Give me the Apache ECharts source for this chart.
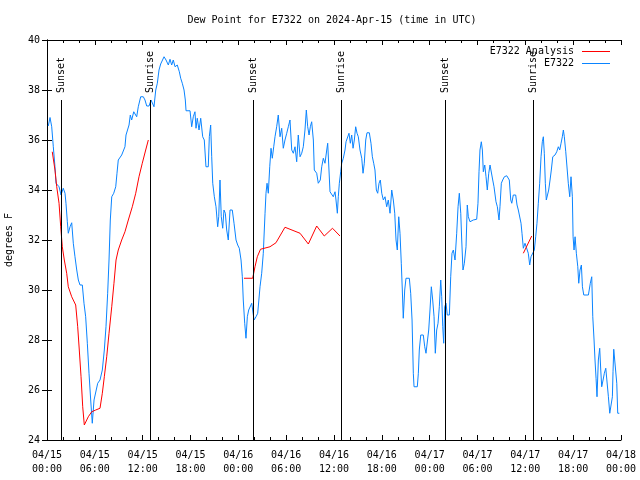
<!DOCTYPE html>
<html>
<head>
<meta charset="utf-8">
<script src="https://cdn.jsdelivr.net/npm/echarts@6/dist/echarts.min.js"></script>
<style>html,body{margin:0;padding:0;background:#fff}#c{width:640px;height:480px}</style>
</head>
<body>
<div id="c"></div>
<script>
// Hours since 2024-04-15 00:00 UTC
const blueHours = [0.16,0.38,0.59,0.79,1.00,1.13,1.34,1.51,1.76,2.04,2.26,2.38,2.55,2.67,2.89,3.10,3.30,3.51,3.73,3.93,4.14,4.43,4.64,4.85,5.06,5.27,5.48,5.68,5.90,6.11,6.36,6.65,6.94,7.19,7.40,7.61,7.78,7.94,8.12,8.37,8.62,8.78,8.94,9.16,9.37,9.62,9.78,9.91,10.12,10.29,10.45,10.62,10.88,11.04,11.25,11.45,11.75,12.08,12.29,12.51,12.80,13.05,13.26,13.42,13.64,13.84,14.05,14.26,14.39,14.68,14.93,15.22,15.43,15.64,15.84,16.06,16.34,16.60,16.77,16.97,17.19,17.35,17.44,17.94,18.15,18.35,18.56,18.69,18.85,19.07,19.28,19.53,19.73,19.94,20.23,20.36,20.53,20.66,20.79,20.99,21.20,21.41,21.54,21.70,21.86,22.04,22.20,22.37,22.54,22.74,22.96,23.24,23.46,23.71,23.92,24.12,24.34,24.50,24.62,24.80,24.96,25.13,25.30,25.46,25.68,25.80,25.97,26.22,26.43,26.72,26.93,27.13,27.35,27.47,27.60,27.76,27.94,28.10,28.26,28.44,28.60,28.81,29.01,29.23,29.44,29.64,29.85,30.07,30.27,30.48,30.70,30.90,31.11,31.32,31.52,31.74,31.95,32.15,32.36,32.53,32.70,32.87,33.03,33.20,33.41,33.53,33.83,34.03,34.28,34.46,34.66,34.87,35.09,35.21,35.37,35.50,35.71,35.91,36.13,36.25,36.42,36.54,36.67,36.84,36.97,37.17,37.38,37.51,37.72,37.88,38.05,38.22,38.39,38.55,38.72,38.89,39.05,39.26,39.48,39.64,39.80,39.98,40.14,40.43,40.64,40.81,40.98,41.14,41.31,41.48,41.65,41.81,41.99,42.19,42.40,42.61,42.81,43.03,43.24,43.44,43.62,43.78,43.94,44.12,44.28,44.44,44.57,44.69,44.87,45.03,45.45,45.62,45.79,45.95,46.04,46.45,46.58,46.70,46.88,47.20,47.38,47.54,47.71,47.88,48.04,48.21,48.38,48.55,48.71,48.88,49.05,49.21,49.39,49.51,49.64,49.76,49.89,50.05,50.21,50.47,50.64,50.80,50.97,51.18,51.39,51.56,51.72,51.90,52.02,52.18,52.35,52.56,52.72,52.85,53.06,53.47,53.90,54.06,54.19,54.31,54.48,54.61,54.73,54.91,55.07,55.23,55.41,55.57,55.73,55.91,56.07,56.32,56.49,56.70,56.82,56.99,57.16,57.37,57.67,57.99,58.17,58.30,58.49,58.79,58.96,59.12,59.30,59.46,59.58,59.75,59.96,60.21,60.37,60.55,60.71,60.92,61.13,61.30,61.46,61.63,61.80,61.97,62.13,62.26,62.38,62.51,62.63,62.76,62.93,63.10,63.26,63.44,63.72,63.94,64.14,64.31,64.48,64.64,64.77,64.89,65.07,65.23,65.39,65.57,65.73,65.90,65.99,66.11,66.24,66.40,66.58,66.70,66.86,67.03,67.16,67.33,67.91,68.15,68.33,68.46,68.62,68.74,68.87,68.99,69.16,69.33,69.46,69.58,69.75,69.91,70.09,70.29,70.42,70.59,70.84,70.92,71.00,71.09,71.34,71.47,71.59,71.79];
const blueValues = [36.56,36.9,36.53,35.73,34.93,34.27,34.33,34.13,33.8,34.07,33.87,33.47,32.73,32.27,32.53,32.69,31.87,31.33,30.8,30.4,30.2,30.2,29.47,28.93,27.87,26.67,25.6,24.67,25.6,25.6,26.27,26.4,26.8,27.6,28.53,29.87,31.2,32.8,33.73,33.87,34.13,34.67,35.2,35.27,35.4,35.47,35.73,36.2,36.13,36.6,37.0,36.8,37.13,37.07,36.93,37.33,37.73,37.73,37.6,37.36,37.36,37.6,37.6,37.33,38.0,38.27,38.8,39.04,39.1,39.33,39.2,39.0,39.23,39.0,39.2,38.93,39.0,38.73,38.47,38.27,38.0,37.6,37.17,37.17,36.53,36.93,37.13,36.47,36.87,36.4,36.87,36.13,36.0,34.93,34.93,36.13,36.6,35.33,34.27,33.73,33.33,32.53,32.93,34.4,32.93,32.47,33.2,33.07,32.4,32.0,33.2,33.2,32.67,32.0,31.8,31.67,31.2,30.53,29.6,28.67,28.07,28.93,29.2,29.27,29.47,29.2,28.8,28.93,29.07,30.13,30.67,31.47,33.07,33.87,34.27,33.87,34.93,35.67,35.27,35.73,36.13,36.53,37.0,36.13,36.47,35.67,36.0,36.27,36.53,36.8,35.6,35.47,35.73,35.13,36.2,35.33,35.47,35.73,36.4,37.2,36.53,36.2,36.53,36.73,36.0,34.8,34.67,34.27,34.4,34.93,35.27,35.07,35.6,35.87,34.8,33.93,33.87,33.73,33.93,33.6,33.07,33.73,34.27,34.73,35.07,35.27,35.6,35.93,35.87,36.27,35.87,36.2,35.67,36.0,36.53,36.27,36.13,35.6,35.27,34.67,35.07,36.0,36.29,36.29,35.87,35.33,35.07,34.8,34.0,33.87,34.27,34.4,33.87,33.6,33.73,33.33,33.6,33.07,34.0,33.6,33.07,32.0,31.6,32.93,32.27,31.07,30.0,28.87,30.0,30.47,30.47,29.87,28.8,26.67,26.13,26.13,26.67,27.6,28.2,28.2,27.73,27.47,27.47,28.4,29.2,30.13,29.6,28.93,27.47,28.4,28.67,29.33,30.4,29.73,28.53,27.87,29.33,29.47,29.0,29.0,30.53,31.47,31.6,31.2,32.27,33.33,33.87,33.07,32.0,30.8,31.07,31.73,33.4,32.93,32.73,32.8,32.83,33.47,34.73,35.6,35.93,35.6,34.73,35.0,34.53,34.0,34.67,35.0,35.07,34.4,34.13,33.53,33.33,32.8,33.33,34.27,34.4,34.53,34.57,34.4,33.6,33.47,33.8,33.8,33.4,33.2,33.13,32.67,32.27,31.67,31.87,31.87,31.47,31.0,31.33,31.4,31.6,32.13,32.67,33.47,34.27,35.33,35.93,36.13,35.47,34.27,33.6,33.53,34.0,34.4,34.8,35.33,35.4,35.53,35.73,35.6,35.87,36.13,36.4,36.13,35.53,35.6,34.27,33.73,34.53,33.73,32.13,31.6,32.13,31.47,30.93,30.27,30.8,31.0,30.13,29.8,29.8,30.27,30.53,28.93,28.0,27.2,26.47,25.73,27.2,27.67,26.8,26.13,26.4,26.67,26.87,26.87,25.73,25.07,25.07,25.73,26.73,27.63,27.63,26.27,25.07,25.07];

const redHours = [0.66,1.00,1.22,1.51,1.72,1.92,2.17,2.47,2.67,3.10,3.60,3.85,4.05,4.27,4.48,4.68,5.18,5.61,6.11,6.65,6.94,7.19,7.49,7.78,8.12,8.40,8.66,8.94,9.37,9.78,10.20,10.70,11.13,11.54,11.95,12.38,12.71,18.0,24.71,25.80,26.09,26.38,26.78,27.97,28.72,29.85,31.74,32.78,33.83,34.78,35.81,36.75,48.0,59.75,60.80];
const redValues = [35.53,34.8,34.13,33.47,32.53,31.73,31.2,30.67,30.13,29.73,29.4,28.53,27.6,26.53,25.33,24.6,24.93,25.13,25.2,25.27,25.87,26.53,27.33,28.27,29.33,30.27,31.2,31.6,32.0,32.33,32.8,33.33,33.87,34.53,35.07,35.6,36.0,null,30.47,30.47,30.93,31.33,31.63,31.73,31.89,32.51,32.27,31.84,32.56,32.16,32.47,32.16,null,31.47,32.16];

const sunEventHours = [1.80, 12.96, 25.88, 36.96, 49.97, 61.0];
const sunEventNames = ['Sunset', 'Sunrise', 'Sunset', 'Sunrise', 'Sunset', 'Sunrise'];
const sunLineTop = 37.6;

const xTickLabels = ['04/15\n00:00','04/15\n06:00','04/15\n12:00','04/15\n18:00','04/16\n00:00','04/16\n06:00','04/16\n12:00','04/16\n18:00','04/17\n00:00','04/17\n06:00','04/17\n12:00','04/17\n18:00','04/18\n00:00'];

const FONT = 'DejaVu Sans Mono';
const blueData = blueHours.map((h, i) => [h, blueValues[i]]);
const redData = redHours.map((h, i) => [h, redValues[i]]);
const sunLines = sunEventHours.map((h, i) => [
  { coord: [h, 24] },
  { coord: [h, sunLineTop] }
]);
const sunLabels = sunEventHours.map((h, i) => ({ name: sunEventNames[i], coord: [h, sunLineTop] }));

const tickStyle = { inside: true, length: 5, lineStyle: { color: '#000' } };
const minorStyle = { show: true, splitNumber: 3, length: 3, lineStyle: { color: '#000' } };
const axisLine = { show: true, lineStyle: { color: '#000', width: 1 } };
const legendCommon = { orient: 'horizontal', align: 'right', padding: 0, icon: 'rect',
  itemWidth: 28, itemHeight: 1, itemGap: 2,
  textStyle: { fontFamily: FONT, fontSize: 10, color: '#000', padding: [0, 3, 0, 0] } };

const chart = echarts.init(document.getElementById('c'), null, { renderer: 'canvas' });
chart.setOption({
  animation: false,
  backgroundColor: '#fff',
  title: {
    text: 'Dew Point for E7322 on 2024-Apr-15 (time in UTC)',
    left: 327, textAlign: 'center', top: 10,
    textStyle: { fontFamily: FONT, fontSize: 10, fontWeight: 'normal', color: '#000' }
  },
  legend: [
    Object.assign({ data: ['E7322 Analysis'], right: 30, top: 46.5 }, legendCommon),
    Object.assign({ data: ['E7322'], right: 30, top: 58.5 }, legendCommon)
  ],
  grid: { left: 47, right: 19, top: 40, bottom: 40, containLabel: false, outerBoundsMode: 'none' },
  xAxis: [
    { type: 'value', min: 0, max: 72, interval: 6, position: 'bottom',
      axisLine, axisTick: tickStyle, minorTick: minorStyle, splitLine: { show: false },
      axisLabel: { margin: 8, fontFamily: FONT, fontSize: 10, color: '#000', lineHeight: 14,
        formatter: v => xTickLabels[Math.round(v / 6)] } },
    { type: 'value', min: 0, max: 72, interval: 6, position: 'top',
      axisLine, axisTick: tickStyle, minorTick: minorStyle, splitLine: { show: false },
      axisLabel: { show: false } }
  ],
  yAxis: [
    { type: 'value', min: 24, max: 40, interval: 2, position: 'left',
      name: 'degrees F', nameLocation: 'middle', nameGap: 33, nameRotate: 90,
      nameTextStyle: { fontFamily: FONT, fontSize: 10, color: '#000' },
      axisLine, axisTick: tickStyle, splitLine: { show: false },
      axisLabel: { margin: 7, fontFamily: FONT, fontSize: 10, color: '#000' } },
    { type: 'value', min: 24, max: 40, interval: 2, position: 'right',
      axisLine, axisTick: tickStyle, splitLine: { show: false },
      axisLabel: { show: false } }
  ],
  series: [
    { name: 'E7322 Analysis', type: 'line', data: redData, symbol: 'none', showSymbol: false,
      connectNulls: false, lineStyle: { color: '#ff0000', width: 1 }, itemStyle: { color: '#ff0000' }, z: 3 },
    { name: 'E7322', type: 'line', data: blueData, symbol: 'none', showSymbol: false,
      lineStyle: { color: '#0a84ff', width: 1 }, itemStyle: { color: '#0a84ff' }, z: 2,
      markLine: {
        silent: true, symbol: ['none', 'none'], animation: false,
        lineStyle: { color: '#000', width: 1, type: 'solid' },
        label: { show: false },
        emphasis: { disabled: true },
        data: sunLines
      },
      markPoint: {
        silent: true, animation: false, symbol: 'circle', symbolSize: 1,
        itemStyle: { color: 'rgba(0,0,0,0)' },
        label: { show: true, position: 'inside', rotate: 90, offset: [7, 0],
          align: 'left', verticalAlign: 'middle', formatter: p => p.name,
          fontFamily: FONT, fontSize: 10, color: '#000' },
        emphasis: { disabled: true },
        data: sunLabels
      } }
  ]
});
</script>
</body>
</html>
